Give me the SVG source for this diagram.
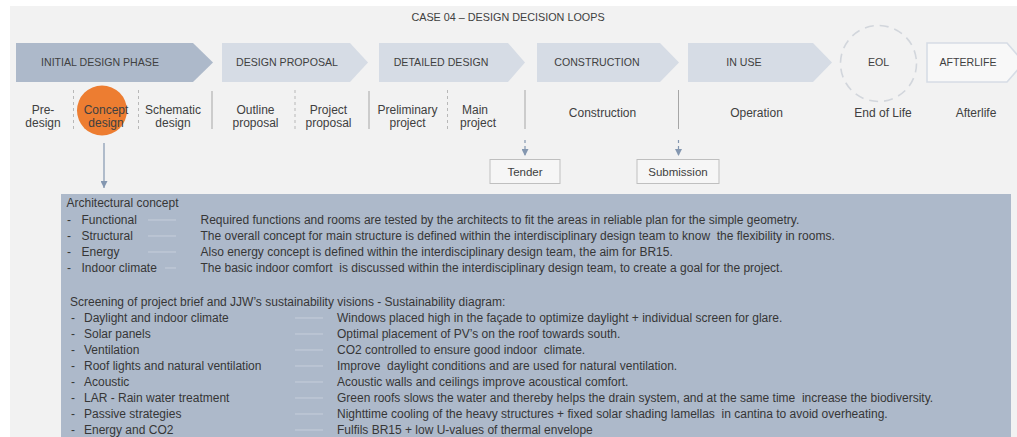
<svg xmlns="http://www.w3.org/2000/svg" width="1017" height="437" viewBox="0 0 1017 437">
<style>
text{font-family:"Liberation Sans",Arial,sans-serif;fill:#404040}
.title{font-size:10.8px}
.ph{font-size:10.6px;text-anchor:middle}
.sub{font-size:12px;text-anchor:middle}
.box{font-size:11.5px;text-anchor:middle}
.pt{font-size:12px;fill:#363636}
.chev{fill:#D6DCE5}
.sep{stroke:#a6a6a6;stroke-width:1}
.dsep{stroke:#b8b8b8;stroke-width:1;stroke-dasharray:3 3}
.conn{stroke:#c6cedb;stroke-width:1}
.arr{stroke:#8497B0;stroke-width:1.2;fill:none}
.darr{stroke:#8497B0;stroke-width:1.2;fill:none;stroke-dasharray:3 3}
</style>
<defs>
<marker id="ah" viewBox="0 0 8 8" refX="8" refY="4" markerWidth="7" markerHeight="7" markerUnits="userSpaceOnUse" orient="auto">
<path d="M0,0 L8,4 L0,8 Z" fill="#8497B0"/>
</marker>
</defs>
<rect x="0" y="0" width="1017" height="437" fill="#ffffff"/>
<rect x="10" y="6" width="1007" height="431" fill="#f2f2f2"/>
<text class="title" x="508" y="21" text-anchor="middle">CASE 04 – DESIGN DECISION LOOPS</text>

<g id="initial-design-phase">
<path d="M16,43 L193,43 L213,62.5 L193,82 L16,82 Z" fill="#ADB9CA"/>
<text class="ph" x="100" y="66.3">INITIAL DESIGN PHASE</text>
</g>
<g id="design-proposal">
<path class="chev" d="M222,43 L350,43 L368,62.5 L350,82 L222,82 Z"/>
<text class="ph" x="287" y="66.3">DESIGN PROPOSAL</text>
</g>
<g id="detailed-design">
<path class="chev" d="M379,43 L508,43 L525,62.5 L508,82 L379,82 Z"/>
<text class="ph" x="441" y="66.3">DETAILED DESIGN</text>
</g>
<g id="construction">
<path class="chev" d="M537,43 L660,43 L679,62.5 L660,82 L537,82 Z"/>
<text class="ph" x="597" y="66.3">CONSTRUCTION</text>
</g>
<g id="in-use">
<path class="chev" d="M688,43 L813,43 L832,62.5 L813,82 L688,82 Z"/>
<text class="ph" x="744" y="66.3">IN USE</text>
</g>
<g id="eol">
<circle cx="878.5" cy="63.5" r="38" fill="none" stroke="#d2d6dc" stroke-width="1.6" stroke-dasharray="9 6"/>
<text class="ph" x="878.5" y="66.3">EOL</text>
</g>
<g id="afterlife">
<path d="M927,43 L1007,43 L1024,62.5 L1007,82 L927,82 Z" fill="#f8f8f8" stroke="#d6dce5" stroke-width="1.6"/>
<text class="ph" x="968" y="66.3">AFTERLIFE</text>
</g>

<g id="stages">
<text class="sub" x="43" y="113.5">Pre-</text>
<text class="sub" x="43" y="127">design</text>
<line class="dsep" x1="73.5" y1="90" x2="73.5" y2="130"/>
<circle cx="102" cy="110.5" r="25" fill="#ED7D31"/>
<text class="sub" x="106" y="113.5">Concept</text>
<text class="sub" x="106" y="127">design</text>
<line class="dsep" x1="138.5" y1="90" x2="138.5" y2="130"/>
<text class="sub" x="173" y="113.5">Schematic</text>
<text class="sub" x="173" y="127">design</text>
<line class="sep" x1="212" y1="91" x2="212" y2="129"/>
<text class="sub" x="255.5" y="113.5">Outline</text>
<text class="sub" x="255.5" y="127">proposal</text>
<line class="dsep" x1="295" y1="90" x2="295" y2="130"/>
<text class="sub" x="328.5" y="113.5">Project</text>
<text class="sub" x="328.5" y="127">proposal</text>
<line class="sep" x1="369" y1="91" x2="369" y2="129"/>
<text class="sub" x="407.5" y="113.5">Preliminary</text>
<text class="sub" x="407.5" y="127">project</text>
<line class="dsep" x1="447.5" y1="90" x2="447.5" y2="130"/>
<text class="sub" x="475" y="113.5">Main</text>
<text class="sub" x="478" y="127">project</text>
<line class="sep" x1="525" y1="90" x2="525" y2="129"/>
<text class="sub" x="602.5" y="116.5">Construction</text>
<line class="sep" x1="678.5" y1="90" x2="678.5" y2="129"/>
<text class="sub" x="756.5" y="116.5">Operation</text>
<text class="sub" x="883" y="116.5">End of Life</text>
<text class="sub" x="976" y="116.5">Afterlife</text>
</g>

<g id="tender">
<rect x="490" y="159.5" width="70" height="24" fill="#f6f6f6" stroke="#bfbfbf" stroke-width="1"/>
<text class="box" x="525" y="175.5">Tender</text>
</g>
<g id="submission">
<rect x="637" y="159.5" width="82" height="24" fill="#f6f6f6" stroke="#bfbfbf" stroke-width="1"/>
<text class="box" x="678" y="175.5">Submission</text>
</g>

<g id="connectors">
<line class="arr" x1="104" y1="143" x2="104" y2="188" marker-end="url(#ah)"/>
<line class="darr" x1="525" y1="140" x2="525" y2="156" marker-end="url(#ah)"/>
<line class="darr" x1="678.5" y1="140" x2="678.5" y2="156" marker-end="url(#ah)"/>
</g>

<g id="panel">
<rect x="61" y="194" width="950" height="243" fill="#ADB9CA"/>
<text class="pt" x="66.5" y="207">Architectural concept</text>
<text class="pt" x="67" y="224">-</text>
<text class="pt" x="81.5" y="224">Functional</text>
<line class="conn" x1="148" y1="220" x2="176" y2="220"/>
<text class="pt" x="200.5" y="224">Required functions and rooms are tested by the architects to fit the areas in reliable plan for the simple geometry.</text>
<text class="pt" x="67" y="240">-</text>
<text class="pt" x="81.5" y="240">Structural</text>
<line class="conn" x1="148" y1="236" x2="176" y2="236"/>
<text class="pt" x="200.5" y="240" xml:space="preserve">The overall concept for main structure is defined within the interdisciplinary design team to know  the flexibility in rooms.</text>
<text class="pt" x="67" y="256">-</text>
<text class="pt" x="81.5" y="256">Energy</text>
<line class="conn" x1="148" y1="252" x2="176" y2="252"/>
<text class="pt" x="200.5" y="256">Also energy concept is defined within the interdisciplinary design team, the aim for BR15.</text>
<text class="pt" x="67" y="272">-</text>
<text class="pt" x="81.5" y="272">Indoor climate</text>
<line class="conn" x1="165" y1="268" x2="176" y2="268"/>
<text class="pt" x="200.5" y="272" xml:space="preserve">The basic indoor comfort  is discussed within the interdisciplinary design team, to create a goal for the project.</text>

<text class="pt" x="70" y="306">Screening of project brief and JJW’s sustainability visions - Sustainability diagram:</text>
<text class="pt" x="71" y="322">-</text>
<text class="pt" x="84" y="322">Daylight and indoor climate</text>
<line class="conn" x1="295" y1="318" x2="323" y2="318"/>
<text class="pt" x="337" y="322">Windows placed high in the façade to optimize daylight + individual screen for glare.</text>
<text class="pt" x="71" y="338">-</text>
<text class="pt" x="84" y="338">Solar panels</text>
<line class="conn" x1="295" y1="334" x2="323" y2="334"/>
<text class="pt" x="337" y="338">Optimal placement of PV’s on the roof towards south.</text>
<text class="pt" x="71" y="354">-</text>
<text class="pt" x="84" y="354">Ventilation</text>
<line class="conn" x1="295" y1="350" x2="323" y2="350"/>
<text class="pt" x="337" y="354" xml:space="preserve">CO2 controlled to ensure good indoor  climate.</text>
<text class="pt" x="71" y="370">-</text>
<text class="pt" x="84" y="370">Roof lights and natural ventilation</text>
<line class="conn" x1="295" y1="366" x2="323" y2="366"/>
<text class="pt" x="337" y="370" xml:space="preserve">Improve  daylight conditions and are used for natural ventilation.</text>
<text class="pt" x="71" y="386">-</text>
<text class="pt" x="84" y="386">Acoustic</text>
<line class="conn" x1="295" y1="382" x2="323" y2="382"/>
<text class="pt" x="337" y="386">Acoustic walls and ceilings improve acoustical comfort.</text>
<text class="pt" x="71" y="402">-</text>
<text class="pt" x="84" y="402">LAR - Rain water treatment</text>
<line class="conn" x1="295" y1="398" x2="323" y2="398"/>
<text class="pt" x="337" y="402" xml:space="preserve">Green roofs slows the water and thereby helps the drain system, and at the same time  increase the biodiversity.</text>
<text class="pt" x="71" y="418">-</text>
<text class="pt" x="84" y="418">Passive strategies</text>
<line class="conn" x1="295" y1="414" x2="323" y2="414"/>
<text class="pt" x="337" y="418" xml:space="preserve">Nighttime cooling of the heavy structures + fixed solar shading lamellas  in cantina to avoid overheating.</text>
<text class="pt" x="71" y="434">-</text>
<text class="pt" x="84" y="434">Energy and CO2</text>
<line class="conn" x1="295" y1="430" x2="323" y2="430"/>
<text class="pt" x="337" y="434">Fulfils BR15 + low U-values of thermal envelope</text>
</g>
</svg>
